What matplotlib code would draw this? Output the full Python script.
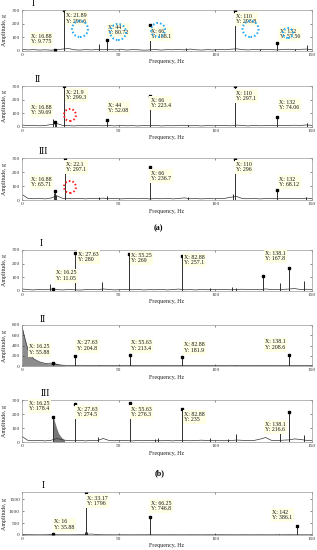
import numpy as np
import matplotlib
matplotlib.use('Agg')
import matplotlib.pyplot as plt
from matplotlib.patches import Ellipse

plt.rcParams['font.family'] = ['Liberation Serif', 'DejaVu Serif']

# baseline grid of the spectra, every 3 Hz
base_f = [0, 3, 6, 9, 12, 15, 18, 21, 24, 27, 30, 33, 36, 39, 42, 45, 48, 51, 54, 57, 60,
          63, 66, 69, 72, 75, 78, 81, 84, 87, 90, 93, 96, 99, 102, 105, 108, 111, 114, 117,
          120, 123, 126, 129, 132, 135, 138, 141, 144, 147, 150]

# ---- (a) ----
a1_base = [12, 8, 10, 7, 9, 6, 10, 14, 18, 9, 7, 10, 8, 11, 9, 12, 8, 13, 7, 10, 9, 6, 8, 11, 7,
           10, 9, 12, 8, 14, 9, 7, 10, 8, 11, 9, 13, 16, 10, 8, 11, 9, 12, 10, 8, 11, 13, 9, 12, 14, 10]
a1_spk_f = [16.88, 21.89, 39.8, 44, 66, 85, 100, 110, 123, 132, 141, 147.3]
a1_spk_a = [9.775, 296.6, 49, 80.72, 188.1, 20, 15, 293.8, 14, 57.56, 18, 44]
a1_tip_f = [16.88, 21.89, 44, 66, 110, 132]
a1_tip_a = [9.775, 296.6, 80.72, 188.1, 293.8, 57.56]

a2_base = [15, 10, 12, 9, 11, 18, 25, 12, 10, 8, 11, 9, 12, 10, 9, 11, 8, 12, 9, 10, 8, 11, 9, 12, 8,
           10, 9, 11, 13, 9, 10, 8, 11, 9, 12, 10, 9, 14, 11, 8, 12, 9, 10, 11, 9, 12, 10, 13, 11, 15, 12]
a2_spk_f = [16.2, 16.88, 17.5, 21.9, 44, 66, 86, 110, 132, 147.3]
a2_spk_a = [55, 39.69, 35, 299.3, 52.08, 223.4, 18, 297.1, 74.06, 30]
a2_tip_f = [16.88, 21.9, 44, 66, 110, 132]
a2_tip_a = [39.69, 299.3, 52.08, 223.4, 297.1, 74.06]

a3_base = [40, 12, 9, 11, 8, 14, 30, 12, 10, 9, 11, 8, 12, 10, 13, 9, 11, 8, 10, 12, 9, 11, 8, 10, 9,
           12, 8, 11, 15, 9, 10, 8, 11, 9, 10, 12, 20, 25, 10, 9, 11, 8, 10, 12, 9, 11, 10, 12, 9, 13, 11]
a3_spk_f = [16.3, 16.88, 17.6, 22.1, 40, 44, 66, 86, 109, 110, 132, 147]
a3_spk_a = [50, 65.71, 35, 297.1, 22, 28, 236.7, 18, 45, 296, 68.12, 22]
a3_tip_f = [16.88, 22.1, 66, 110, 132]
a3_tip_a = [65.71, 297.1, 236.7, 296, 68.12]

# ---- (b) ----
b1_base = [15, 10, 8, 12, 9, 14, 10, 8, 11, 9, 7, 10, 12, 9, 15, 11, 8, 10, 12, 9, 11, 8, 10, 9, 12,
           8, 11, 14, 9, 10, 8, 12, 9, 11, 10, 12, 9, 11, 13, 10, 12, 9, 15, 11, 10, 12, 14, 18, 11, 13, 10]
b1_spk_f = [14.3, 16.25, 27.63, 41.5, 55.25, 82.88, 97, 108.5, 110.5, 124.5, 133.5, 138.1, 146]
b1_spk_a = [48, 11.05, 280, 66, 269, 257.1, 22, 30, 25, 112, 55, 167.8, 70]
b1_tip_f = [16.25, 27.63, 55.25, 82.88, 138.1]
b1_tip_a = [11.05, 280, 269, 257.1, 167.8]

b2_base = [760, 330, 140, 80, 50, 55, 30, 15, 12, 10, 14, 11, 9, 13, 10, 12, 9, 11, 14, 10, 9, 12, 10, 8, 11,
           9, 12, 10, 9, 11, 13, 10, 9, 12, 10, 11, 14, 10, 9, 12, 10, 11, 9, 13, 10, 12, 9, 11, 10, 12, 10]
b2_env_f = [0, 0.5, 1, 1.5, 2, 3, 4, 5, 6, 8, 10, 12, 14, 15, 16, 17, 18, 19, 20, 22]
b2_env_a = [760, 700, 600, 520, 450, 330, 240, 180, 140, 95, 70, 50, 45, 55, 70, 65, 50, 35, 25, 15]
b2_spk_f = [16.25, 27.63, 40, 55.63, 82.88, 110, 138.1]
b2_spk_a = [55.88, 204.8, 20, 213.4, 181.9, 20, 208.6]
b2_tip_f = [16.25, 27.63, 55.63, 82.88, 138.1]
b2_tip_a = [55.88, 204.8, 213.4, 181.9, 208.6]

b3_base = [40, 12, 9, 11, 8, 12, 25, 15, 10, 9, 11, 8, 12, 10, 25, 11, 9, 12, 10, 8, 11, 9, 12, 10, 9,
           11, 8, 12, 10, 9, 11, 13, 10, 12, 9, 11, 10, 14, 12, 10, 11, 20, 32, 12, 10, 13, 15, 22, 18, 12, 10]
b3_env_f = [16.25, 17, 18, 19, 20, 21, 22]
b3_env_a = [178, 140, 95, 60, 40, 25, 15]
b3_spk_f = [16.25, 27.63, 39.4, 55.63, 69, 70.5, 82.88, 97, 106.5, 110.5, 133.5, 138.1, 146]
b3_spk_a = [178.4, 274.5, 36, 276.3, 22, 30, 235, 30, 25, 57, 64, 216.6, 50]
b3_tip_f = [16.25, 27.63, 55.63, 82.88, 138.1]
b3_tip_a = [178.4, 274.5, 276.3, 235, 216.6]

# ---- (c) ----
c1_base = [20, 12, 10, 8, 10, 15, 12, 10, 9, 12, 15, 30, 40, 15, 10, 9, 8, 10, 9, 8, 10, 9, 12, 10, 9,
           8, 10, 9, 8, 10, 9, 8, 10, 9, 12, 10, 9, 8, 10, 9, 8, 10, 9, 8, 10, 9, 12, 10, 9, 8, 10]
c1_spk_f = [14, 16, 32.6, 33.17, 33.7, 66.25, 100, 133, 142]
c1_spk_a = [60, 35.88, 120, 1796, 120, 746.8, 50, 40, 386.1]
c1_tip_f = [16, 33.17, 66.25, 142]
c1_tip_a = [35.88, 1796, 746.8, 386.1]

W, H = 317.0, 550.0
fig = plt.figure(figsize=(W / 100, H / 100), dpi=100)


def make_ax(top, bottom, ymax, yticks, title, title_x):
    ax = fig.add_axes([22 / W, 1 - bottom / H, 290 / W, (bottom - top) / H])
    ax.set_xlim(0, 150)
    ax.set_ylim(0, ymax)
    ax.set_xticks([0, 50, 100, 150])
    ax.set_yticks(yticks)
    ax.tick_params(direction='in', length=1.5, width=0.4, labelsize=3.9, pad=1.5,
                   colors='#333333', top=True, right=True)
    for s in ax.spines.values():
        s.set_color('#9a9a9a')
        s.set_linewidth(0.5)
    ax.set_xlabel('Frequency, Hz', fontsize=4.3, color='#222222')
    ax.xaxis.set_label_coords(0.5, -8.5 / (bottom - top))
    ax.set_ylabel('Amplitude, g', fontsize=4.3, color='#222222')
    ax.yaxis.set_label_coords(-15 / 290, 0.5)
    fig.text(title_x / W, 1 - (top - 6) / H, title, fontsize=7, ha='center', va='center')
    return ax


def spectrum(ax, base, spk_f, spk_a, tip_f, tip_a, tx, ty):
    ax.plot(base_f, base, color='#333333', lw=0.5)
    ax.vlines(spk_f, 0, spk_a, color='#222222', lw=0.65)
    ax.plot(tip_f, tip_a, 's', color='black', ms=1.5)
    for f, a, x, y in zip(tip_f, tip_a, tx, ty):
        ax.text(x, y, 'X: %.4g\nY: %.4g' % (f, a), fontsize=4.2, ha='left', va='top',
                linespacing=1.2, color='#111111',
                bbox=dict(boxstyle='square,pad=0.25', fc='#ffffe6', ec='none'))


def circles(ax, xs, ys, rs, color, hpx, ymax):
    for x, y, r in zip(xs, ys, rs):
        e = Ellipse((x, y), 2 * r / 1.933, 2 * r * ymax / hpx, fill=False, ec=color,
                    lw=1.4, ls=(0, (0.8, 1.1)), zorder=5)
        ax.add_patch(e)


ax = make_ax(10, 51, 300, [0, 100, 200, 300], 'I', 33)
spectrum(ax, a1_base, a1_spk_f, a1_spk_a, a1_tip_f, a1_tip_a,
         [4.7, 22.8, 44.5, 66.7, 110.7, 133.3], [128, 280, 193, 164, 274, 164])
circles(ax, [30, 49.7, 70.4, 118.2, 137.6], [161, 139, 154, 161, 132], [8, 8, 7, 8, 5],
        '#1ea7f5', 41, 300)

ax = make_ax(86, 127, 300, [0, 100, 200, 300], 'II', 38)
spectrum(ax, a2_base, a2_spk_f, a2_spk_a, a2_tip_f, a2_tip_a,
         [4.7, 22.8, 44.5, 66.7, 110.7, 133.0], [164, 274, 179, 215, 267, 201])
circles(ax, [24.8], [88], [6], '#ff2020', 41, 300)

ax = make_ax(158, 200, 300, [0, 100, 200, 300], 'III', 43)
spectrum(ax, a3_base, a3_spk_f, a3_spk_a, a3_tip_f, a3_tip_a,
         [4.7, 22.8, 66.7, 110.7, 133.0], [167, 275, 210, 275, 167])
circles(ax, [24.8], [93], [6], '#ff2020', 42, 300)

fig.text(158 / W, 1 - 228 / H, '(a)', fontsize=5.8, fontweight='bold', ha='center', va='center')

ax = make_ax(250, 291, 300, [0, 100, 200, 300], 'I', 41)
spectrum(ax, b1_base, b1_spk_f, b1_spk_a, b1_tip_f, b1_tip_a,
         [17.6, 29.0, 56.4, 83.8, 125.7], [150, 289, 281, 267, 296])
ax.plot([124.5], [112], 's', color='black', ms=1.5)

ax = make_ax(325, 366, 800, [0, 200, 400, 600, 800], 'II', 43)
ax.fill_between(b2_env_f, 0, b2_env_a, color='#8c8c8c', lw=0)
spectrum(ax, b2_base, b2_spk_f, b2_spk_a, b2_tip_f, b2_tip_a,
         [3.6, 28.4, 56.4, 83.8, 125.7], [420, 498, 498, 460, 518])

ax = make_ax(400, 442, 300, [0, 100, 200, 300], 'III', 45)
ax.fill_between(b3_env_f, 0, b3_env_a, color='#777777', lw=0)
spectrum(ax, b3_base, b3_spk_f, b3_spk_a, b3_tip_f, b3_tip_a,
         [3.6, 28.4, 56.4, 83.8, 125.7], [296, 253, 253, 217, 146])

fig.text(160 / W, 1 - 473 / H, '(b)', fontsize=5.8, fontweight='bold', ha='center', va='center')

ax = make_ax(492, 535, 1800, [0, 500, 1000, 1500], 'I', 43)
spectrum(ax, c1_base, c1_spk_f, c1_spk_a, c1_tip_f, c1_tip_a,
         [16.6, 33.6, 66.7, 129.3], [650, 1650, 1440, 1065])

fig.savefig('out.png', dpi=100)
